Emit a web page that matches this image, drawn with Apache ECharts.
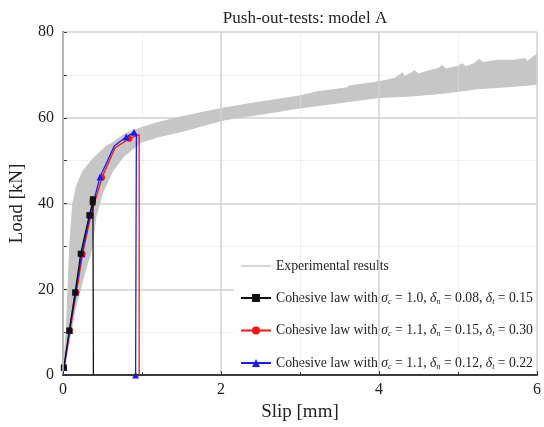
<!DOCTYPE html>
<html><head><meta charset="utf-8">
<script src="https://cdn.jsdelivr.net/npm/echarts@6/dist/echarts.min.js"></script>
<style>html,body{margin:0;padding:0;background:#fff}#c{width:544px;height:427px}</style>
</head><body><div id="c"></div>
<script>
// Experimental band envelopes [slip, load]
var expUpper = [[0,0],[0.02,5],[0.045,11.4],[0.065,20],[0.085,30],[0.125,40],[0.17,44],[0.25,47.5],[0.37,50.3],[0.55,53.4],[0.62,54.1],[0.78,56.2],[0.99,57.7],[1.2,58.9],[1.54,60.4],[2.04,62.3],[2.5,63.7],[3.0,65.1],[3.2,66.0],[3.6,67.0],[3.62,67.4],[4.0,68.4],[4.2,69.2],[4.3,70.5],[4.32,69.6],[4.4,70.4],[4.45,71.0],[4.5,70.2],[4.6,70.8],[4.75,71.5],[4.8,72.2],[4.85,71.4],[5.0,72.0],[5.05,72.6],[5.1,71.9],[5.2,72.6],[5.27,73.6],[5.32,72.9],[5.5,73.4],[5.7,73.4],[5.85,73.8],[5.88,73.2],[5.95,74.2],[6.0,74.8]];
var expLower = [[0,0],[0.04,3.7],[0.16,15.8],[0.27,23.4],[0.355,28.7],[0.42,37],[0.5,42.4],[0.63,47.6],[0.77,51],[0.99,54.3],[1.2,55.5],[1.54,57],[2.04,59.5],[2.5,60.8],[3.0,62.3],[3.5,63.5],[4.0,64.7],[4.43,65.1],[4.85,65.8],[5.27,66.8],[5.69,67.3],[6.0,67.8]];
// Cohesive law curves [slip, load, showMarker]
var blackData = [[0.012,1.8,1],[0.08,10.4,1],[0.155,19.3,1],[0.225,28.3,1],[0.335,37.3,1],[0.377,40.3,1],[0.38,41.0,1],[0.386,0,0]];
var redData = [[0.015,1.8,1],[0.09,10.4,1],[0.17,19.3,1],[0.25,28.3,1],[0.355,37.3,1],[0.495,46.1,1],[0.66,53.0,0],[0.84,55.1,1],[0.965,56.1,0],[0.965,0,0]];
var blueData = [[0.015,1.8,1],[0.085,10.4,1],[0.16,19.3,1],[0.24,28.3,1],[0.345,37.3,1],[0.47,46.2,1],[0.65,53.4,0],[0.8,55.5,1],[0.9,56.6,1],[0.93,56.2,0],[0.92,0,1]];
var xTicks = [0,2,4,6];
var yTicks = [0,20,40,60,80];

var serif = 'Liberation Serif';
function toPts(d){ return d.map(function(p){ return {value:[p[0],p[1]], symbol: p[2] ? undefined : 'none'}; }); }

var labels = {
  'black': 'Cohesive law with {it|σ}{sub|c} = 1.0, {it|δ}{sub|n} = 0.08, {it|δ}{sub|t} = 0.15',
  'red': 'Cohesive law with {it|σ}{sub|c} = 1.1, {it|δ}{sub|n} = 0.15, {it|δ}{sub|t} = 0.30',
  'blue': 'Cohesive law with {it|σ}{sub|c} = 1.1, {it|δ}{sub|n} = 0.12, {it|δ}{sub|t} = 0.22',
  'exp': 'Experimental results'
};

var chart = echarts.init(document.getElementById('c'));
chart.setOption({
  animation: false,
  title: {text: 'Push-out-tests: model A', left: 300, top: 5, textAlign: 'center',
    textStyle: {fontFamily: serif, fontWeight: 'normal', fontSize: 17, color: '#222'}},
  grid: {left: 61, right: 3, top: 32, bottom: 43},
  legend: {
    orient: 'vertical', left: 234, top: 255, itemWidth: 30, itemHeight: 10, itemGap: 18,
    backgroundColor: '#fff', padding: [4, 6, 1, 6],
    data: [{name: 'exp', itemStyle: {opacity: 0}}, 'black', 'red', 'blue'],
    formatter: function(n){ return labels[n]; },
    textStyle: {fontFamily: serif, fontSize: 13.7, color: '#222',
      rich: {
        it: {fontFamily: serif, fontStyle: 'italic', fontSize: 13.7, color: '#222'},
        sub: {fontFamily: serif, fontStyle: 'italic', fontSize: 8, color: '#222', padding: [7, 0, 0, 0]}
      }}
  },
  xAxis: [{
    type: 'value', min: 0, max: 6, interval: 2,
    name: 'Slip [mm]', nameLocation: 'middle', nameGap: 26,
    nameTextStyle: {fontFamily: serif, fontSize: 19, color: '#222'},
    axisLine: {show: true, onZero: false, lineStyle: {color: '#333', width: 1.5}},
    axisTick: {show: true, inside: true, length: 4, lineStyle: {color: '#333'}},
    minorTick: {show: true, splitNumber: 2, length: 3, lineStyle: {color: '#333'}},
    axisLabel: {fontFamily: serif, fontSize: 16, color: '#222', margin: 7,
      formatter: function(v){ return xTicks.indexOf(v) >= 0 ? String(v) : ''; }},
    splitLine: {show: true, lineStyle: {color: '#d0d0d0', width: 1.5}},
    minorSplitLine: {show: true, lineStyle: {color: '#e2e2e2', type: 'dotted', width: 1}},
    z: 10
  }, {
    type: 'value', position: 'top', min: 0, max: 6,
    axisLine: {show: true, lineStyle: {color: '#555', width: 2}},
    axisTick: {show: false}, axisLabel: {show: false}, splitLine: {show: false}
  }],
  yAxis: [{
    type: 'value', min: 0, max: 80, interval: 20,
    name: 'Load [kN]', nameLocation: 'middle', nameGap: 34,
    nameTextStyle: {fontFamily: serif, fontSize: 19, color: '#222'},
    axisLine: {show: true, onZero: false, lineStyle: {color: '#333', width: 1.5}},
    axisTick: {show: true, inside: true, length: 4, lineStyle: {color: '#333'}},
    minorTick: {show: true, splitNumber: 2, length: 4, lineStyle: {color: '#333'}},
    axisLabel: {fontFamily: serif, fontSize: 16, color: '#222', margin: 9,
      formatter: function(v){ return yTicks.indexOf(v) >= 0 ? String(v) : ''; }},
    splitLine: {show: true, lineStyle: {color: '#d0d0d0', width: 1.5}},
    minorSplitLine: {show: true, lineStyle: {color: '#e2e2e2', type: 'dotted', width: 1}}
  }],
  series: [
    {
      type: 'custom', name: 'band', silent: true, clip: true, z: 1,
      data: [[0, 0]],
      renderItem: function(params, api){
        var pts = [];
        expUpper.forEach(function(p){ pts.push(api.coord(p)); });
        for (var i = expLower.length - 1; i >= 0; i--) pts.push(api.coord(expLower[i]));
        return {type: 'polygon', shape: {points: pts}, style: {fill: '#c6c6c6', stroke: '#c6c6c6', lineWidth: 1}};
      }
    },
    {type: 'line', name: 'exp', data: [], symbol: 'none', lineStyle: {color: '#d8d8d8', width: 1.5}, itemStyle: {color: '#d8d8d8'}},
    {type: 'line', name: 'red', data: toPts(redData), symbol: 'circle', symbolSize: 6, z: 3,
      lineStyle: {color: '#ff1010', width: 1.3}, itemStyle: {color: '#ff1010'}},
    {type: 'line', name: 'blue', data: toPts(blueData), symbol: 'triangle', symbolSize: 7, z: 4,
      lineStyle: {color: '#1a1aff', width: 1.3}, itemStyle: {color: '#1a1aff'}},
    {type: 'line', name: 'black', data: toPts(blackData), symbol: 'rect', symbolSize: 6, z: 5,
      lineStyle: {color: '#111', width: 1.3}, itemStyle: {color: '#111'}}
  ]
});
</script></body></html>
